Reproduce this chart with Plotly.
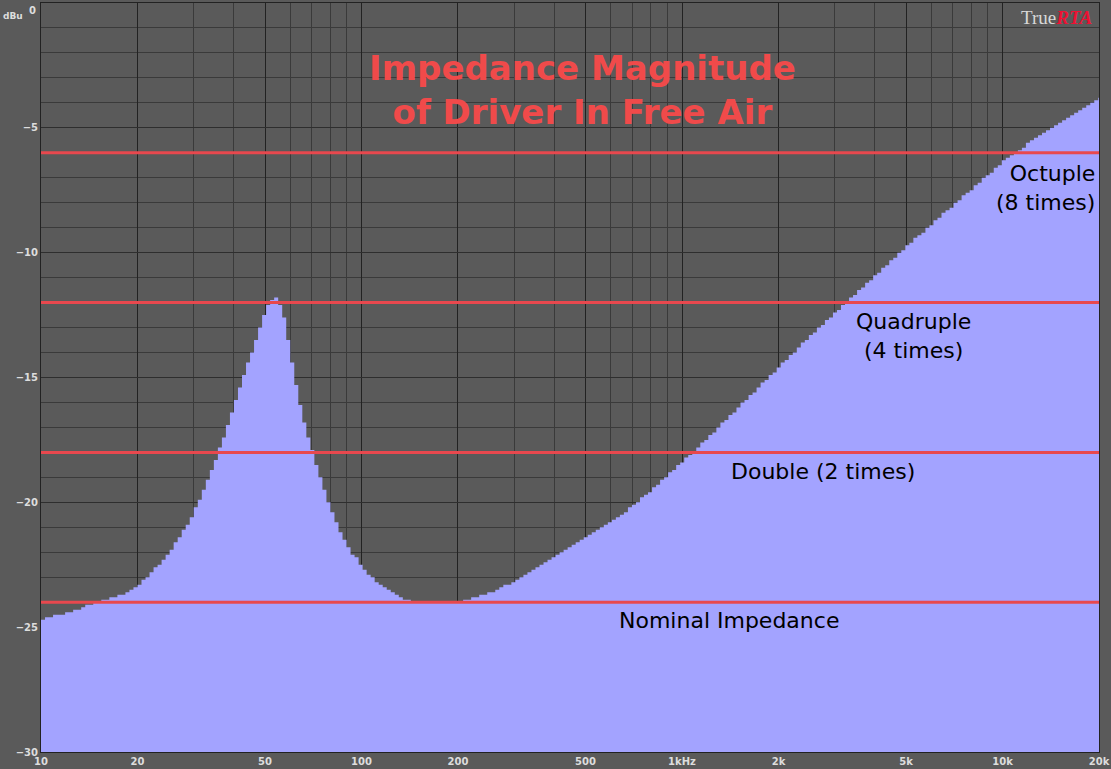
import plotly.graph_objects as go

# 1/24 octave bands starting at 10 Hz, magnitude in dBu
band_start = 10.0
bands_per_octave = 24

levels = [
    # 10 - 20 Hz
    -24.7, -24.6, -24.6, -24.5, -24.5, -24.5, -24.4, -24.4, -24.3, -24.3, -24.2, -24.1,
    -24.1, -24.0, -24.0, -23.9, -23.9, -23.8, -23.8, -23.7, -23.7, -23.6, -23.5, -23.4,
    # 20 - 40 Hz
    -23.3, -23.1, -23.0, -22.8, -22.6, -22.5, -22.3, -22.1, -21.9, -21.6, -21.4, -21.1,
    -20.9, -20.6, -20.2, -19.9, -19.5, -19.1, -18.7, -18.3, -17.8, -17.4, -16.9, -16.4,
    # 40 - 80 Hz
    -15.9, -15.4, -14.9, -14.4, -14.0, -13.5, -13.0, -12.5, -12.1, -11.9, -11.8, -12.1,
    -12.6, -13.5, -14.4, -15.3, -16.1, -16.8, -17.4, -17.9, -18.5, -19.0, -19.5, -20.0,
    # 80 - 160 Hz
    -20.4, -20.8, -21.2, -21.5, -21.8, -22.1, -22.2, -22.5, -22.7, -22.9, -23.0, -23.2,
    -23.3, -23.4, -23.5, -23.6, -23.7, -23.8, -23.9, -23.9, -24.0, -24.0, -24.0, -24.0,
    # 160 - 320 Hz
    -24.0, -24.0, -24.0, -24.0, -24.0, -24.0, -24.0, -24.0, -23.95, -23.9, -23.9, -23.8,
    -23.8, -23.7, -23.7, -23.6, -23.6, -23.5, -23.4, -23.3, -23.3, -23.2, -23.1, -23.0,
    # 320 - 640 Hz
    -22.9, -22.8, -22.7, -22.6, -22.5, -22.4, -22.3, -22.2, -22.1, -22.0, -21.9, -21.8,
    -21.7, -21.6, -21.5, -21.4, -21.3, -21.2, -21.1, -21.0, -20.9, -20.8, -20.7, -20.6,
    # 640 Hz - 1.28 kHz
    -20.5, -20.4, -20.2, -20.1, -20.0, -19.8, -19.7, -19.6, -19.4, -19.3, -19.1, -19.0,
    -18.8, -18.7, -18.5, -18.4, -18.2, -18.1, -17.95, -17.8, -17.6, -17.5, -17.3, -17.2,
    # 1.28 - 2.56 kHz
    -17.0, -16.8, -16.7, -16.5, -16.4, -16.2, -16.0, -15.9, -15.7, -15.6, -15.4, -15.2,
    -15.1, -14.9, -14.8, -14.6, -14.4, -14.3, -14.1, -14.0, -13.8, -13.6, -13.5, -13.3,
    # 2.56 - 5.12 kHz
    -13.2, -13.0, -12.9, -12.7, -12.6, -12.4, -12.3, -12.1, -12.0, -11.8, -11.7, -11.5,
    -11.4, -11.2, -11.1, -10.9, -10.8, -10.6, -10.5, -10.3, -10.2, -10.0, -9.9, -9.7,
    # 5.12 - 10.24 kHz
    -9.6, -9.4, -9.3, -9.2, -9.0, -8.9, -8.7, -8.6, -8.4, -8.3, -8.2, -8.0,
    -7.9, -7.7, -7.6, -7.5, -7.3, -7.2, -7.0, -6.9, -6.8, -6.6, -6.5, -6.3,
    # 10.24 - 20 kHz
    -6.2, -6.1, -6.0, -5.9, -5.8, -5.6, -5.5, -5.4, -5.3, -5.2, -5.1, -5.0,
    -4.9, -4.8, -4.7, -4.6, -4.5, -4.4, -4.3, -4.2, -4.1, -4.0, -3.9, -3.8,
]

ref_levels = [-6, -12, -18, -24]
ref_labels = ["Octuple<br>(8 times)", "Quadruple<br>(4 times)", "Double (2 times)", "Nominal Impedance"]

x_ticks = [10, 20, 50, 100, 200, 500, 1000, 2000, 5000, 10000, 20000]
x_tick_text = ["10", "20", "50", "100", "200", "500", "1kHz", "2k", "5k", "10k", "20k"]
y_ticks = [-5, -10, -15, -20, -25, -30]

bg = "#5a5a5a"
grid = "#3a3a3a"
bar_col = "#a3a3ff"
red = "#e8484e"
tick_font = dict(family="DejaVu Sans", size=10, color="#dddddd", weight="bold")

# band edges, plus closing edge for the last band
freqs = [band_start * 2 ** (i / bands_per_octave) for i in range(len(levels) + 1)]
steps = levels + [levels[-1]]

minor_vals = []
for dec in [10, 100, 1000, 10000]:
    for m in range(1, 10):
        if dec * m <= 20000:
            minor_vals.append(dec * m)

fig = go.Figure()
fig.add_trace(go.Scatter(x=[freqs[0], freqs[-1]], y=[-30, -30], mode="lines",
                         line=dict(width=0), hoverinfo="skip", showlegend=False))
fig.add_trace(go.Scatter(x=freqs, y=steps, mode="lines", line_shape="hv",
                         line=dict(color=bar_col, width=0), fill="tonexty",
                         fillcolor=bar_col, showlegend=False))

for lv in ref_levels:
    fig.add_shape(type="line", xref="paper", x0=0, x1=1, yref="y", y0=lv, y1=lv,
                  line=dict(color=red, width=3))

# reference line labels (positions in log10 Hz)
lab_pos = [(4.294, -7.4, "right", "right"), (3.722, -13.35, "center", "center"),
           (3.441, -18.75, "center", "center"), (3.147, -24.75, "center", "center")]
for (lx, ly, anchor, align), txt in zip(lab_pos, ref_labels):
    fig.add_annotation(x=lx, y=ly, text=txt, showarrow=False, xanchor=anchor, align=align,
                       font=dict(family="DejaVu Sans", size=22, color="black"))

fig.add_annotation(x=2.69, y=-3.5, text="<b>Impedance Magnitude<br>of Driver In Free Air</b>",
                   showarrow=False, font=dict(family="DejaVu Sans", size=34, color="#f04a4a"),
                   yanchor="middle")
fig.add_annotation(xref="paper", yref="paper", x=0.995, y=0.997, xanchor="right", yanchor="top",
                   text="<span style='color:#d8d8d8'>True</span><b><i>RTA</i></b>", showarrow=False,
                   font=dict(family="Liberation Serif", size=19, color="#ee1133"))
fig.add_annotation(xref="paper", yref="paper", x=-0.038, y=0.982, xanchor="left", yanchor="middle",
                   text="<b>dBu</b>", showarrow=False,
                   font=dict(family="DejaVu Sans", size=9, color="#dddddd"))
fig.add_annotation(xref="paper", yref="y", x=-0.003, y=0, xanchor="right", yanchor="top",
                   text="<b>0</b>", showarrow=False, font=tick_font)

fig.update_xaxes(type="log", range=[1, 4.30103], tickvals=x_ticks, ticktext=x_tick_text,
                 showgrid=True, gridcolor="#222222", gridwidth=1, ticks="", automargin=False,
                 tickfont=tick_font,
                 minor=dict(tickvals=minor_vals, showgrid=True, gridcolor=grid, gridwidth=1),
                 showline=True, linecolor="#222222", mirror=True, zeroline=False)
fig.update_yaxes(range=[-30, 0], tickvals=y_ticks, showgrid=True, gridcolor="#2e2e2e",
                 automargin=False, tickfont=tick_font,
                 minor=dict(dtick=1, showgrid=True, gridcolor=grid, gridwidth=1),
                 showline=True, linecolor="#222222", mirror=True, zeroline=False, ticks="")

fig.update_layout(width=1111, height=769, paper_bgcolor=bg, plot_bgcolor=bg,
                  margin=dict(l=41, r=12, t=3, b=17), showlegend=False)

# drop the page's default body margin so the figure sits at the window corner
fig.write_html("out.html", config={"displayModeBar": False},
               post_script="document.body.style.margin='0';")
